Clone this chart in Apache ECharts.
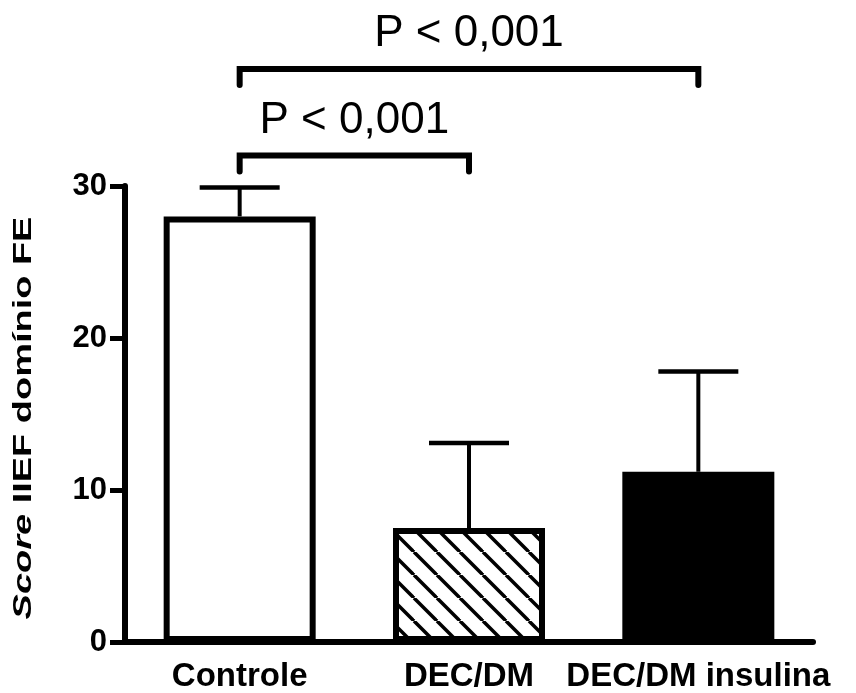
<!DOCTYPE html>
<html>
<head>
<meta charset="utf-8">
<script src="https://cdn.jsdelivr.net/npm/echarts@6/dist/echarts.min.js"></script>
<style>
  html, body { margin: 0; padding: 0; background: #fff; }
  #chart { width: 856px; height: 693px; }
</style>
</head>
<body>
<div id="chart"></div>
<script>
// Group labels, means and standard deviations
const categories = ['Controle', 'DEC/DM', 'DEC/DM insulina'];
const means = [28, 7.5, 11.2];
const sds = [1.9, 5.6, 6.6];

// Value axis
const yMin = 0;
const yMax = 30;
const yStep = 10;

// Pairwise comparisons drawn as brackets above the bars
const compFrom = [0, 0];
const compTo = [2, 1];
const compLevel = [37.7, 32.0];
const compLabel = ['P < 0,001', 'P < 0,001'];

// Axis title pieces
const yTitleItalic = 'Score';
const yTitleRest = ' IIEF domínio FE';

const FONT = "'Liberation Sans', Arial, Helvetica, sans-serif";

// Diagonal hatching tile for the DEC/DM bar
function makeHatch() {
  const s = 23;
  const c = document.createElement('canvas');
  c.width = s; c.height = s;
  const g = c.getContext('2d');
  g.fillStyle = '#fff';
  g.fillRect(0, 0, s, s);
  g.strokeStyle = '#000';
  g.lineWidth = 3.5;
  for (let k = -1; k <= 1; k++) {
    g.beginPath();
    g.moveTo(k * s, 0);
    g.lineTo(k * s + s, s);
    g.stroke();
  }
  return c;
}

const fills = ['#ffffff', { image: makeHatch(), repeat: 'repeat' }, '#000000'];

const chart = echarts.init(document.getElementById('chart'), null, { renderer: 'canvas' });

chart.setOption({
  animation: false,
  backgroundColor: '#fff',
  grid: { left: 125, right: 43, top: 186, bottom: 49 },
  xAxis: {
    type: 'category',
    data: categories,
    boundaryGap: true,
    axisLine: { lineStyle: { color: '#000', width: 6 } },
    axisTick: { alignWithLabel: true, length: 16, lineStyle: { color: '#000', width: 6 } },
    axisLabel: {
      color: '#000', fontFamily: FONT, fontWeight: 'bold', fontSize: 33,
      margin: 18, interval: 0
    },
    splitLine: { show: false }
  },
  yAxis: {
    type: 'value',
    min: yMin, max: yMax, interval: yStep,
    axisLine: { show: true, lineStyle: { color: '#000', width: 6 } },
    axisTick: { show: true, length: 15, lineStyle: { color: '#000', width: 5 } },
    axisLabel: {
      color: '#000', fontFamily: FONT, fontWeight: 'bold', fontSize: 31, margin: 18
    },
    splitLine: { show: false }
  },
  graphic: [{
    type: 'text',
    x: 24,
    y: 418,
    rotation: Math.PI / 2,
    scaleX: 1.46,
    style: {
      text: '{i|' + yTitleItalic + '}' + yTitleRest,
      fontFamily: FONT,
      fontWeight: 'bold',
      fontSize: 26,
      fill: '#000',
      align: 'center',
      verticalAlign: 'middle',
      rich: {
        i: { fontFamily: FONT, fontWeight: 'bold', fontStyle: 'italic', fontSize: 26, fill: '#000' }
      }
    }
  }],
  series: [
    {
      type: 'bar',
      barWidth: 152,
      data: means.map((v, i) => ({
        value: v,
        itemStyle: { color: fills[i], borderColor: '#000', borderWidth: 6 }
      })),
      z: 2
    },
    {
      // upper standard-deviation whiskers
      type: 'custom',
      z: 3,
      clip: false,
      data: means.map((m, i) => [i, m, m + sds[i]]),
      renderItem(params, api) {
        const i = api.value(0);
        const p0 = api.coord([i, api.value(1)]);
        const p1 = api.coord([i, api.value(2)]);
        const half = 40;
        return {
          type: 'group',
          children: [
            { type: 'line', shape: { x1: p0[0], y1: p0[1], x2: p1[0], y2: p1[1] },
              style: { stroke: '#000', lineWidth: 4 } },
            { type: 'line', shape: { x1: p1[0] - half, y1: p1[1], x2: p1[0] + half, y2: p1[1] },
              style: { stroke: '#000', lineWidth: 4.5 } }
          ]
        };
      }
    },
    {
      // significance brackets with their labels
      type: 'custom',
      z: 4,
      clip: false,
      data: compFrom.map((f, i) => [f, compTo[i], compLevel[i], i]),
      renderItem(params, api) {
        const a = api.coord([api.value(0), api.value(2)]);
        const b = api.coord([api.value(1), api.value(2)]);
        const drop = 16;
        const idx = api.value(3);
        return {
          type: 'group',
          children: [
            { type: 'polyline',
              shape: { points: [[a[0], a[1] + drop], [a[0], a[1]], [b[0], a[1]], [b[0], a[1] + drop]] },
              style: { stroke: '#000', lineWidth: 6, lineCap: 'round', lineJoin: 'miter', fill: null } },
            { type: 'text',
              x: (a[0] + b[0]) / 2,
              y: a[1] - 35,
              style: {
                text: compLabel[idx], fontFamily: FONT, fontSize: 44, fill: '#000',
                align: 'center', verticalAlign: 'middle'
              } }
          ]
        };
      }
    }
  ]
});
</script>
</body>
</html>
